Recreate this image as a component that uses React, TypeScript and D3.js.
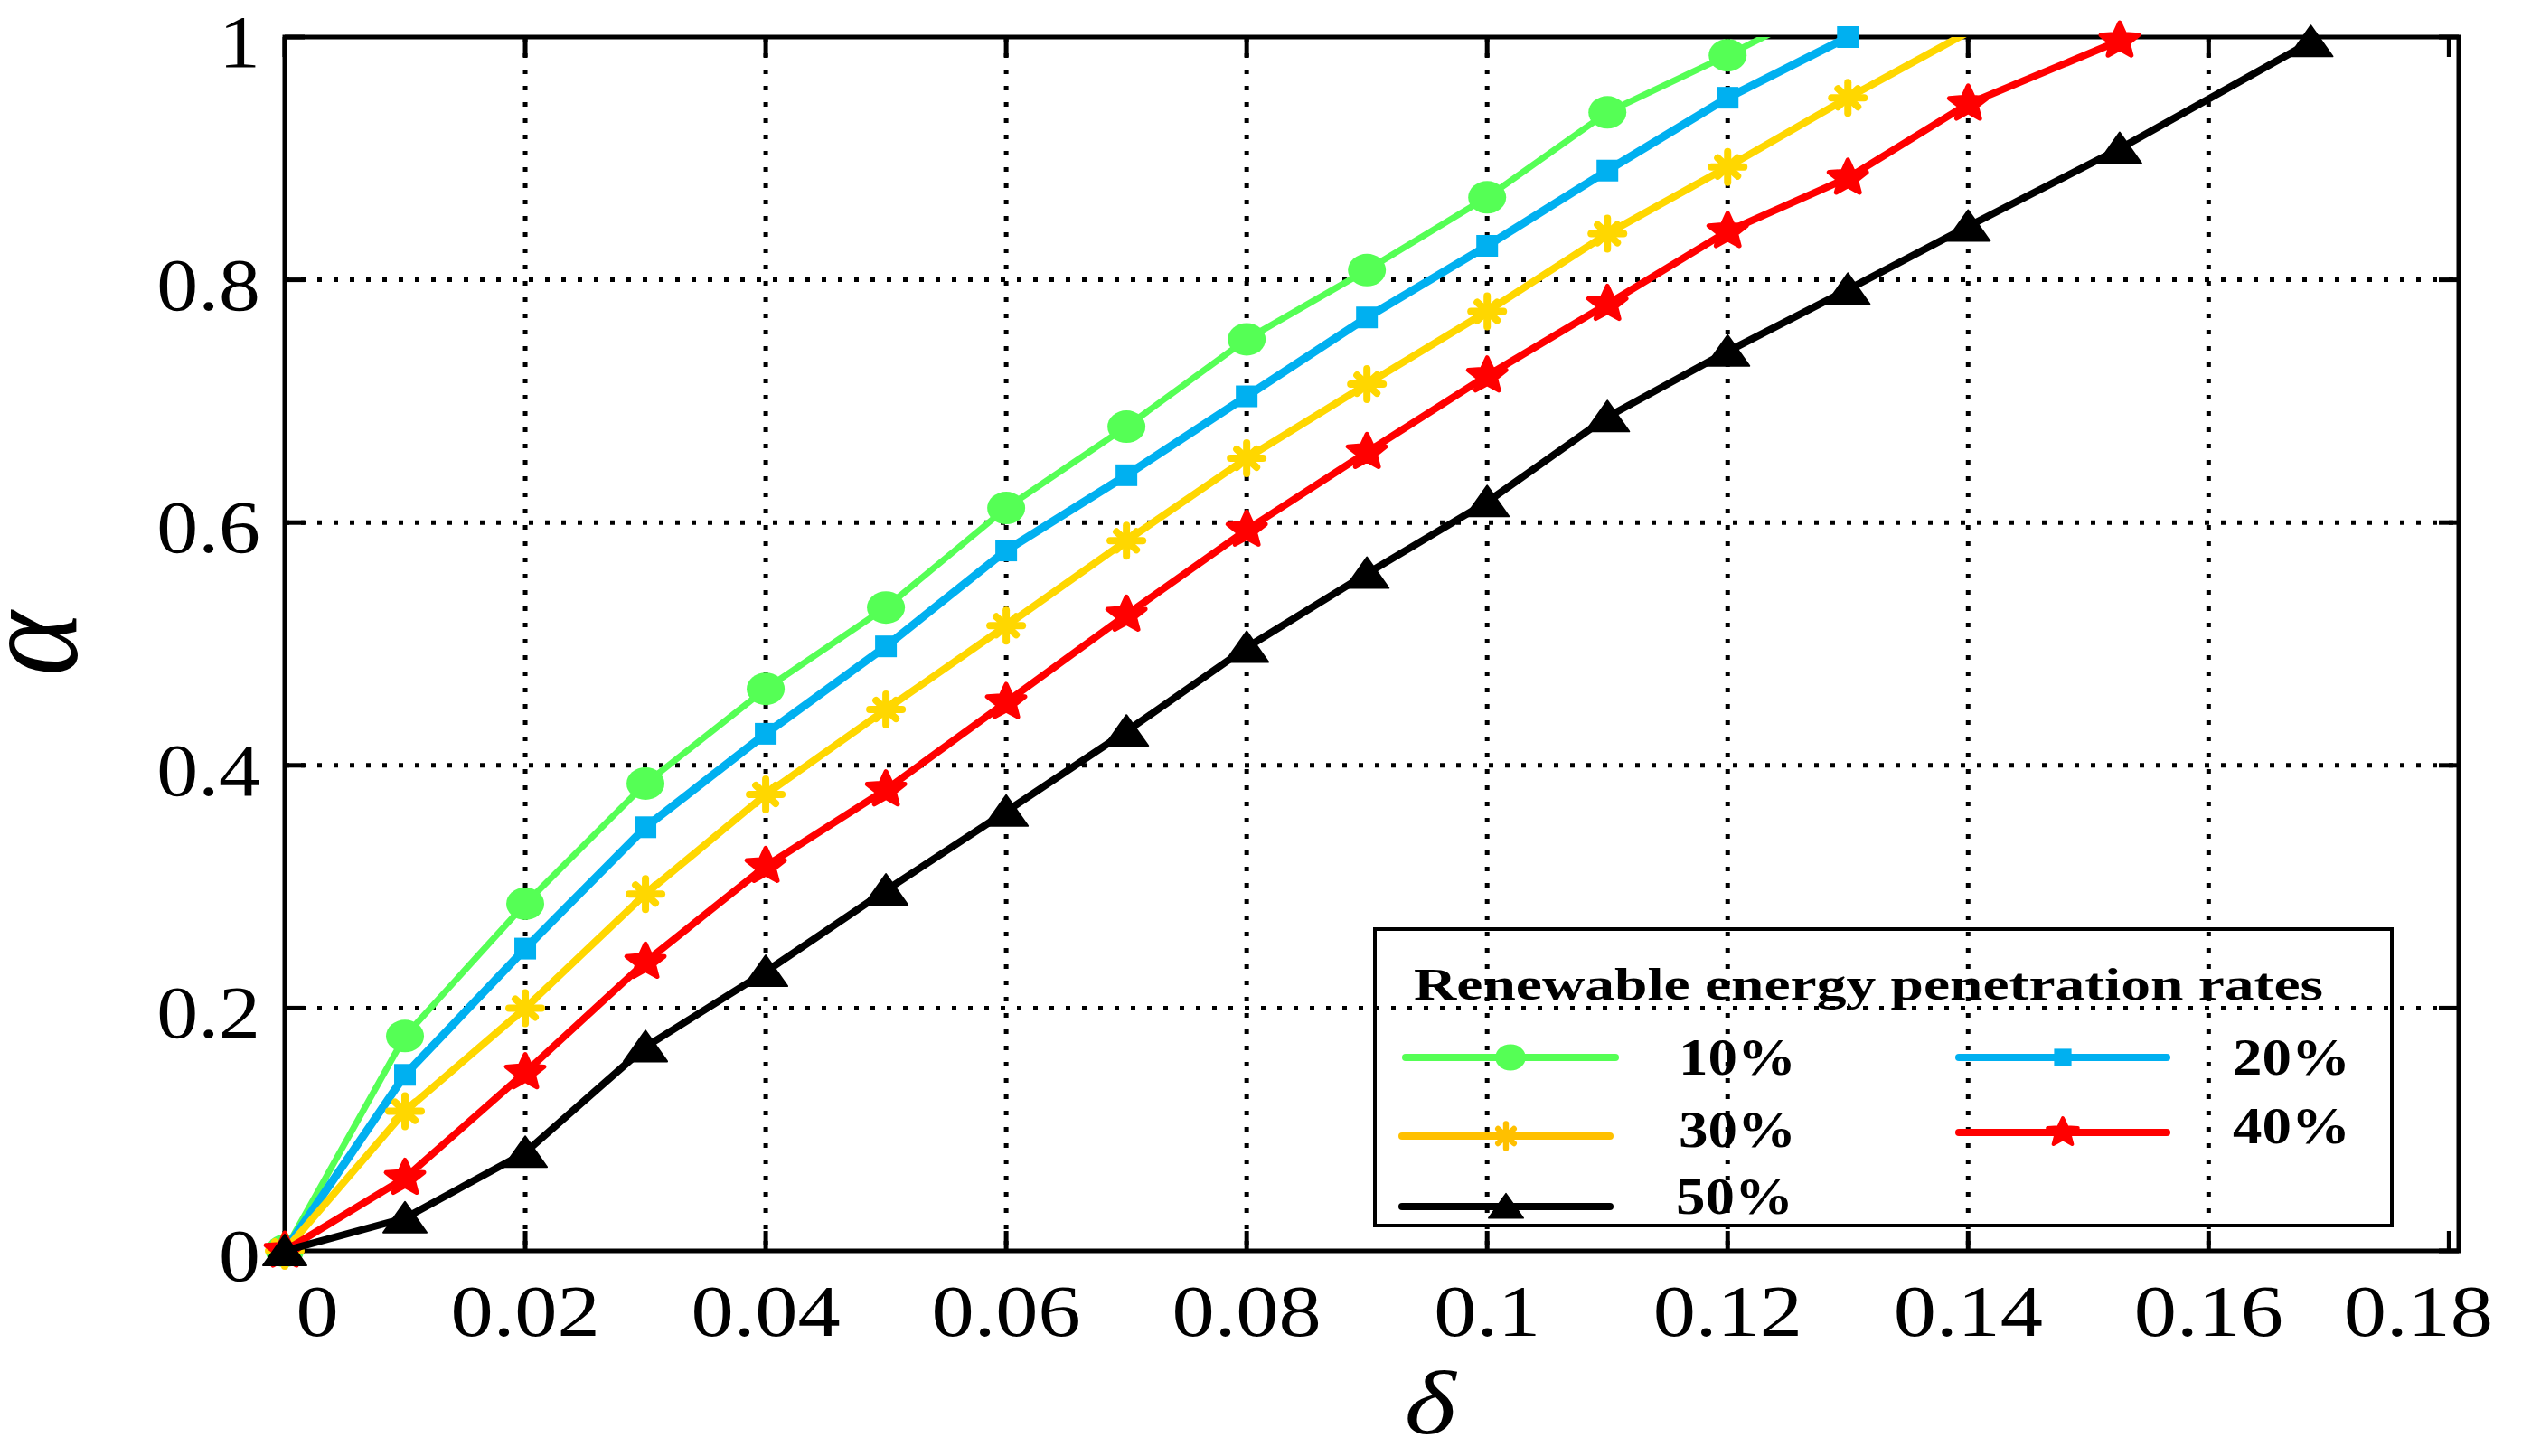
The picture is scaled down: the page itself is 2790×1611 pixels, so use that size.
import React, { useRef, useEffect } from 'react'
import * as d3 from 'd3'

// δ positions and α values
const DELTA_10 = [0, 0.01, 0.02, 0.03, 0.04, 0.05, 0.06, 0.07, 0.08, 0.09, 0.1, 0.11, 0.12, 0.13]
const ALPHA_10 = [0, 0.177, 0.286, 0.385, 0.463, 0.53, 0.612, 0.679, 0.751, 0.808, 0.868, 0.938, 0.985, 1.035]

const DELTA_20 = [0, 0.01, 0.02, 0.03, 0.04, 0.05, 0.06, 0.07, 0.08, 0.09, 0.1, 0.11, 0.12, 0.13]
const ALPHA_20 = [0, 0.145, 0.249, 0.349, 0.426, 0.498, 0.577, 0.639, 0.704, 0.769, 0.828, 0.89, 0.95, 1.0]

const DELTA_30 = [0, 0.01, 0.02, 0.03, 0.04, 0.05, 0.06, 0.07, 0.08, 0.09, 0.1, 0.11, 0.12, 0.13, 0.14]
const ALPHA_30 = [0, 0.115, 0.2, 0.294, 0.376, 0.446, 0.515, 0.585, 0.653, 0.714, 0.774, 0.838, 0.893, 0.95, 1.004]

const DELTA_40 = [0, 0.01, 0.02, 0.03, 0.04, 0.05, 0.06, 0.07, 0.08, 0.09, 0.1, 0.11, 0.12, 0.13, 0.14, 0.1526]
const ALPHA_40 = [0, 0.06, 0.147, 0.238, 0.317, 0.38, 0.452, 0.524, 0.594, 0.658, 0.721, 0.78, 0.84, 0.884, 0.945, 0.997]

const DELTA_50 = [0, 0.01, 0.02, 0.03, 0.04, 0.05, 0.06, 0.07, 0.08, 0.09, 0.1, 0.11, 0.12, 0.13, 0.14, 0.1526, 0.1685]
const ALPHA_50 = [0, 0.027, 0.081, 0.168, 0.23, 0.297, 0.362, 0.428, 0.497, 0.558, 0.617, 0.687, 0.741, 0.792, 0.844, 0.908, 0.996]

const SERIES_LABELS = ['10%', '20%', '30%', '40%', '50%']
const LEGEND_TITLE = 'Renewable energy penetration rates'

const X_TICKS = [0, 0.02, 0.04, 0.06, 0.08, 0.1, 0.12, 0.14, 0.16, 0.18]
const X_TICK_LABELS = ['0', '0.02', '0.04', '0.06', '0.08', '0.1', '0.12', '0.14', '0.16', '0.18']
const Y_TICKS = [0, 0.2, 0.4, 0.6, 0.8, 1]
const Y_TICK_LABELS = ['0', '0.2', '0.4', '0.6', '0.8', '1']

const WIDTH = 2790
const HEIGHT = 1611
const SERIF = '"Liberation Serif", "Times New Roman", Times, serif'

type MarkerKind = 'circle' | 'square' | 'asterisk' | 'star' | 'triangle'

const series = [
  { label: SERIES_LABELS[0], xs: DELTA_10, ys: ALPHA_10, color: '#55FF55', legendColor: '#55FF55', width: 7, marker: 'circle' as MarkerKind },
  { label: SERIES_LABELS[1], xs: DELTA_20, ys: ALPHA_20, color: '#00B0F0', legendColor: '#00B0F0', width: 9, marker: 'square' as MarkerKind },
  { label: SERIES_LABELS[2], xs: DELTA_30, ys: ALPHA_30, color: '#FFD700', legendColor: '#FFC000', width: 8, marker: 'asterisk' as MarkerKind },
  { label: SERIES_LABELS[3], xs: DELTA_40, ys: ALPHA_40, color: '#FF0000', legendColor: '#FF0000', width: 8, marker: 'star' as MarkerKind },
  { label: SERIES_LABELS[4], xs: DELTA_50, ys: ALPHA_50, color: '#000000', legendColor: '#000000', width: 8, marker: 'triangle' as MarkerKind },
]

function drawMarker(g: any, kind: MarkerKind, cx: number, cy: number, color: string, k = 1) {
  const m = g.append('g').attr('transform', `translate(${cx},${cy}) scale(${k})`)
  if (kind === 'circle') {
    m.append('ellipse').attr('rx', 21).attr('ry', 18).attr('fill', color)
  } else if (kind === 'square') {
    m.append('rect').attr('x', -12).attr('y', -12).attr('width', 24).attr('height', 24).attr('fill', color)
  } else if (kind === 'asterisk') {
    const arms = [
      [0, -17, 0, 17],
      [-18, 0, 18, 0],
      [-11, -10, 11, 10],
      [-11, 10, 11, -10],
    ]
    arms.forEach(a => {
      m.append('line')
        .attr('x1', a[0]).attr('y1', a[1]).attr('x2', a[2]).attr('y2', a[3])
        .attr('stroke', color).attr('stroke-width', 8).attr('stroke-linecap', 'round')
    })
  } else if (kind === 'star') {
    const pts: [number, number][] = []
    for (let i = 0; i < 10; i++) {
      const r = i % 2 === 0 ? 20 : 9
      const a = -Math.PI / 2 + (i * Math.PI) / 5
      pts.push([Math.cos(a) * r * 1.1, Math.sin(a) * r])
    }
    m.append('path')
      .attr('d', d3.line()(pts) + 'Z')
      .attr('fill', color).attr('stroke', color).attr('stroke-width', 5).attr('stroke-linejoin', 'round')
  } else {
    m.append('path').attr('d', 'M0,-18 L24,16 L-24,16 Z').attr('fill', color)
      .attr('stroke', color).attr('stroke-width', 2).attr('stroke-linejoin', 'round')
  }
}

function stretchedText(g: any, x: number, y: number, str: string, size: number, opts: any = {}) {
  return g.append('text')
    .attr('transform', `translate(${x},${y}) scale(${opts.sx ?? 1.18},1)`)
    .attr('text-anchor', opts.anchor ?? 'middle')
    .style('font-family', SERIF)
    .style('font-size', `${size}px`)
    .style('font-weight', opts.weight ?? 'normal')
    .style('font-style', opts.italic ? 'italic' : 'normal')
    .attr('fill', '#000')
    .text(str)
}

const AlphaDeltaChart: React.FC = () => {
  const svgRef = useRef<SVGSVGElement>(null)

  useEffect(() => {
    if (!svgRef.current) return
    d3.select(svgRef.current).selectAll('*').remove()

    const left = 315
    const right = 2720
    const top = 41
    const bottom = 1384

    const x = d3.scaleLinear().domain([0, 0.1808]).range([left, right])
    const y = d3.scaleLinear().domain([0, 1]).range([bottom, top])

    const svg = d3.select(svgRef.current).attr('width', WIDTH).attr('height', HEIGHT)
    svg.append('rect').attr('width', WIDTH).attr('height', HEIGHT).attr('fill', '#fff')

    svg.append('defs').append('clipPath').attr('id', 'plot-clip')
      .append('rect').attr('x', left).attr('y', top).attr('width', right - left).attr('height', bottom - top)

    // Dotted grid
    const grid = svg.append('g')
    X_TICKS.filter(t => t > 0 && t < 0.18).forEach(t => {
      grid.append('line')
        .attr('x1', x(t)).attr('x2', x(t)).attr('y1', top).attr('y2', bottom)
        .attr('stroke', '#000').attr('stroke-width', 5).attr('stroke-dasharray', '5 13')
    })
    Y_TICKS.filter(t => t > 0 && t < 1).forEach(t => {
      grid.append('line')
        .attr('x1', left).attr('x2', right).attr('y1', y(t)).attr('y2', y(t))
        .attr('stroke', '#000').attr('stroke-width', 5).attr('stroke-dasharray', '5 13')
    })

    // Axes box and inward ticks
    const axes = svg.append('g')
    axes.append('rect')
      .attr('x', left).attr('y', top).attr('width', right - left).attr('height', bottom - top)
      .attr('fill', 'none').attr('stroke', '#000').attr('stroke-width', 5)
    const tickLen = 22
    X_TICKS.forEach(t => {
      axes.append('line').attr('x1', x(t)).attr('x2', x(t)).attr('y1', bottom).attr('y2', bottom - tickLen).attr('stroke', '#000').attr('stroke-width', 5)
      axes.append('line').attr('x1', x(t)).attr('x2', x(t)).attr('y1', top).attr('y2', top + tickLen).attr('stroke', '#000').attr('stroke-width', 5)
    })
    Y_TICKS.forEach(t => {
      axes.append('line').attr('x1', left).attr('x2', left + tickLen).attr('y1', y(t)).attr('y2', y(t)).attr('stroke', '#000').attr('stroke-width', 5)
      axes.append('line').attr('x1', right).attr('x2', right - tickLen).attr('y1', y(t)).attr('y2', y(t)).attr('stroke', '#000').attr('stroke-width', 5)
    })

    // Tick labels
    X_TICKS.forEach((t, i) => {
      const shift = i === 0 ? 36 : i === X_TICKS.length - 1 ? -34 : 0
      stretchedText(svg, x(t) + shift, 1478, X_TICK_LABELS[i], 80)
    })
    Y_TICKS.forEach((t, i) => {
      stretchedText(svg, 288, y(t) + 33, Y_TICK_LABELS[i], 82, { anchor: 'end', sx: 1.12 })
    })

    // Axis titles
    stretchedText(svg, 1582, 1586, 'δ', 100, { italic: true, sx: 1.22 })
    svg.append('text')
      .attr('transform', 'translate(84,712) rotate(-90) scale(1,1.15)')
      .attr('text-anchor', 'middle')
      .style('font-family', SERIF)
      .style('font-size', '136px')
      .style('font-style', 'italic')
      .text('α')

    // Series
    const lineGen = d3.line<[number, number]>().x(d => x(d[0])).y(d => y(d[1]))
    series.forEach(s => {
      const pts: [number, number][] = s.xs.map((v, i) => [v, s.ys[i]])
      svg.append('path')
        .attr('d', lineGen(pts))
        .attr('fill', 'none')
        .attr('stroke', s.color)
        .attr('stroke-width', s.width)
        .attr('stroke-linejoin', 'round')
        .attr('clip-path', 'url(#plot-clip)')
      const mg = svg.append('g')
      pts.filter(p => p[1] <= 1.0001).forEach(p => drawMarker(mg, s.marker, x(p[0]), y(p[1]), s.color))
    })

    // Legend
    const legend = svg.append('g')
    legend.append('rect')
      .attr('x', 1521).attr('y', 1028).attr('width', 1125).attr('height', 328)
      .attr('fill', 'none').attr('stroke', '#000').attr('stroke-width', 4)
    legend.append('text')
      .attr('x', 1564).attr('y', 1106)
      .attr('textLength', 1006).attr('lengthAdjust', 'spacingAndGlyphs')
      .style('font-family', SERIF).style('font-size', '50px').style('font-weight', 'bold')
      .text(LEGEND_TITLE)

    const slots = [
      { x0: 1555, x1: 1787, y: 1170, tx: 1857, ty: 1189 },
      { x0: 2167, x1: 2397, y: 1170, tx: 2470, ty: 1189 },
      { x0: 1551, x1: 1781, y: 1257, tx: 1857, ty: 1269 },
      { x0: 2167, x1: 2397, y: 1253, tx: 2470, ty: 1265 },
      { x0: 1551, x1: 1781, y: 1335, tx: 1854, ty: 1343 },
    ]
    series.forEach((s, i) => {
      const sl = slots[i]
      legend.append('line')
        .attr('x1', sl.x0).attr('x2', sl.x1).attr('y1', sl.y).attr('y2', sl.y)
        .attr('stroke', s.legendColor).attr('stroke-width', 8).attr('stroke-linecap', 'round')
      drawMarker(legend, s.marker, (sl.x0 + sl.x1) / 2, sl.y, s.legendColor, 0.8)
      stretchedText(legend, sl.tx, sl.ty, s.label, 56, { anchor: 'start', weight: 'bold', sx: 1.16 })
    })
  }, [])

  return <svg ref={svgRef} style={{ display: 'block' }} />
}

export default function App() {
  return (
    <>
      <style>{'body{margin:0;background:#fff}'}</style>
      <AlphaDeltaChart />
    </>
  )
}
